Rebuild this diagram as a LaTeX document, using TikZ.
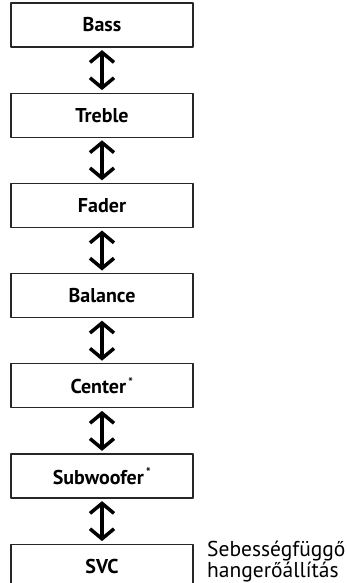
\documentclass[tikz,border=0pt]{standalone}
\usepackage{fontspec}
\setmainfont{PT Sans}
\usetikzlibrary{positioning,arrows.meta}
\tikzset{
	menubox/.style={draw=black!85,line width=1.2pt,minimum width=182pt,minimum height=44pt,inner sep=0pt,font=\fontsize{20}{22}\selectfont\bfseries},
	updown/.style={{Straight Barb[length=10pt,width=24pt,line width=3.5pt]}-{Straight Barb[length=10pt,width=24pt,line width=3.5pt]},line width=3.5pt,shorten <=2.5pt,shorten >=2.5pt}
}
\newcommand{\starnote}{\textsuperscript{\,\fontsize{12}{12}\selectfont *}}
\begin{document}
\begin{tikzpicture}[node distance=45pt,line join=round]
	\useasboundingbox (0,0) rectangle (347pt,-583pt);
	\node[menubox] (bass) at (102pt,-25pt) {Bass};
	\node[menubox,below=of bass] (treble) {Treble};
	\node[menubox,below=of treble] (fader) {Fader};
	\node[menubox,below=of fader] (balance) {Balance};
	\node[menubox,below=of balance] (center) {Center\starnote};
	\node[menubox,below=of center] (subwoofer) {Subwoofer\starnote};
	\node[menubox,below=of subwoofer] (svc) {SVC};
	\node[anchor=north west,align=left,inner sep=0pt,font=\fontsize{21.5}{21}\selectfont] (svcnote) at (207pt,-541pt) {Sebességfüggő\\hangerőállítás};
	\draw[updown] (bass) -- (treble);
	\draw[updown] (treble) -- (fader);
	\draw[updown] (fader) -- (balance);
	\draw[updown] (balance) -- (center);
	\draw[updown] (center) -- (subwoofer);
	\draw[updown] (subwoofer) -- (svc);
\end{tikzpicture}
\end{document}
